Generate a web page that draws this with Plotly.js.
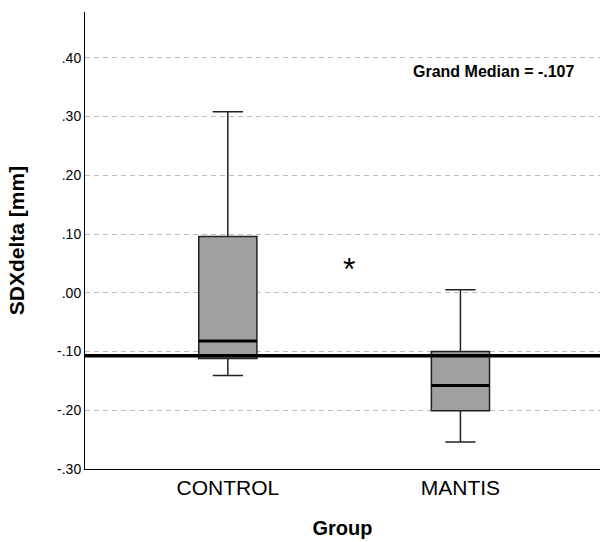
<!DOCTYPE html>
<html>
<head>
<meta charset="utf-8">
<script src="https://cdn.plot.ly/plotly-3.0.1.min.js"></script>
<style>html,body{margin:0;padding:0;background:#fff;}#chart{width:600px;height:542px;}</style>
</head>
<body>
<div id="chart"></div>
<script>
// ---- data ----
const groups = ["CONTROL", "MANTIS"];
const q1 = [-0.112, -0.201];
const median = [-0.082, -0.158];
const q3 = [0.096, -0.100];
const lowerWhisker = [-0.141, -0.254];
const upperWhisker = [0.308, 0.005];
const grandMedian = -0.107;
const grandMedianLabel = "Grand Median = -.107";
const yTickVals = [-0.30, -0.20, -0.10, 0.00, 0.10, 0.20, 0.30, 0.40];
const yTickText = ["-.30", "-.20", "-.10", ".00", ".10", ".20", ".30", ".40"];
const sigMarkX = 0.52;
const sigMarkY = 0.048;

const FONT = "Liberation Sans, Arial, sans-serif";
const boxWidth = 0.25;
const idx = groups.map((g, i) => i);

const traces = [{
  type: "box",
  x: idx,
  q1: q1,
  median: median,
  q3: q3,
  lowerfence: lowerWhisker,
  upperfence: upperWhisker,
  width: boxWidth,
  whiskerwidth: 0.52,
  fillcolor: "#a0a0a0",
  line: {color: "#222222", width: 1.5},
  boxpoints: false,
  hoverinfo: "skip",
  showlegend: false
}];

const shapes = idx.map(i => ({
  type: "line", xref: "x", yref: "y",
  x0: i - boxWidth / 2, x1: i + boxWidth / 2,
  y0: median[i], y1: median[i],
  line: {color: "#000", width: 3},
  layer: "above"
}));
shapes.push({
  type: "line", xref: "paper", yref: "y",
  x0: 0, x1: 1, y0: grandMedian, y1: grandMedian,
  line: {color: "#000", width: 3.5},
  layer: "above"
});

const layout = {
  width: 600, height: 542,
  margin: {l: 85, r: 0, t: 12, b: 73},
  paper_bgcolor: "#fff", plot_bgcolor: "#fff",
  font: {family: FONT, color: "#000"},
  showlegend: false,
  xaxis: {
    range: [-0.614, 1.6],
    tickvals: idx, ticktext: groups,
    tickfont: {size: 21, family: FONT},
    showgrid: false, zeroline: false,
    showline: true, linecolor: "#000", linewidth: 1,
    ticks: "", ticklen: 0,
    title: {text: "<b>Group</b>", font: {size: 20, family: FONT}, standoff: 22}
  },
  yaxis: {
    range: [-0.30, 0.478],
    tickvals: yTickVals, ticktext: yTickText,
    tickfont: {size: 14, family: FONT},
    showgrid: true, gridcolor: "#bdbdbd", gridwidth: 1, griddash: "5px,4px",
    zeroline: false,
    showline: true, linecolor: "#000", linewidth: 1,
    ticks: "", ticklen: 0,
    title: {text: "<b>SDXdelta [mm]</b>", font: {size: 21, family: FONT}, standoff: 26}
  },
  shapes: shapes,
  annotations: [
    {
      xref: "paper", yref: "y", x: 0.953, y: 0.377,
      xanchor: "right", yanchor: "middle",
      text: "<b>" + grandMedianLabel + "</b>",
      showarrow: false, font: {size: 16, family: FONT, color: "#000"}
    },
    {
      xref: "x", yref: "y", x: sigMarkX, y: sigMarkY,
      xanchor: "center", yanchor: "middle", yshift: -4,
      text: "*", showarrow: false,
      font: {size: 32, family: FONT, color: "#000"}
    }
  ]
};

Plotly.newPlot("chart", traces, layout, {displayModeBar: false, staticPlot: true});
</script>
</body>
</html>
